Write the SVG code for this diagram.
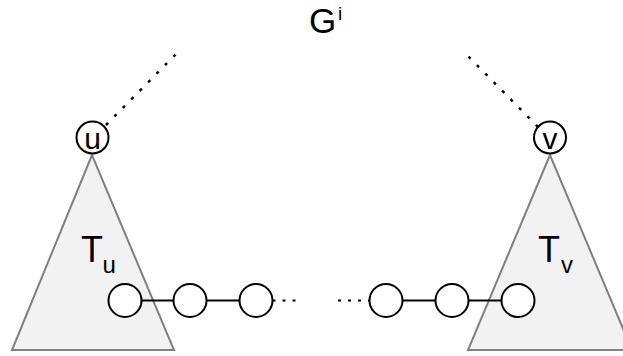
<svg xmlns="http://www.w3.org/2000/svg" width="623" height="356" viewBox="0 0 623 356">
<style>
.tri{fill:#f2f2f2;stroke:#808080;stroke-width:2}
.nd{fill:#fff;stroke:#000;stroke-width:2}
.ln{stroke:#000;stroke-width:2;fill:none}
.dot{stroke:#000;stroke-width:2;fill:none;stroke-dasharray:3 7}
.ddot{stroke:#000;stroke-width:2.5;fill:none;stroke-dasharray:3 9}
text{font-family:"Liberation Sans",Arial,sans-serif;fill:#000}
</style>
<rect width="623" height="356" fill="#fff"/>
<g id="Tu">
<polygon class="tri" points="92,155 12,350 174,350"/>
<text x="81" y="262" font-size="36">T</text>
<text x="102.5" y="273" font-size="24">u</text>
</g>
<g id="Tv">
<polygon class="tri" points="550,155 468,350 632,350"/>
<text x="538" y="262" font-size="36">T</text>
<text x="561" y="273" font-size="24">v</text>
</g>
<g id="Gi">
<text x="309" y="33" font-size="35">G</text>
<text x="338" y="20" font-size="19">i</text>
</g>
<g id="connectors">
<line class="ddot" x1="106" y1="125" x2="177" y2="53"/>
<line class="ddot" x1="538" y1="127" x2="466" y2="54"/>
<line class="ln" x1="141.5" y1="300.5" x2="173.5" y2="300.5"/>
<line class="ln" x1="206.5" y1="300.5" x2="239.5" y2="300.5"/>
<line class="dot" x1="272.5" y1="300.5" x2="302" y2="300.5"/>
<line class="dot" x1="338" y1="300.5" x2="369.5" y2="300.5"/>
<line class="ln" x1="402.5" y1="300.5" x2="435.5" y2="300.5"/>
<line class="ln" x1="468.5" y1="300.5" x2="501.5" y2="300.5"/>
</g>
<g id="u">
<circle class="nd" cx="92.5" cy="137.5" r="16"/>
<text x="92.5" y="149" font-size="30" text-anchor="middle">u</text>
</g>
<g id="v">
<circle class="nd" cx="550" cy="137.5" r="16"/>
<text x="550" y="149" font-size="30" text-anchor="middle">v</text>
</g>
<g id="n1"><circle class="nd" cx="125" cy="300.5" r="16.5"/></g>
<g id="n2"><circle class="nd" cx="190" cy="300.5" r="16.5"/></g>
<g id="n3"><circle class="nd" cx="256" cy="300.5" r="16.5"/></g>
<g id="n4"><circle class="nd" cx="386" cy="300.5" r="16.5"/></g>
<g id="n5"><circle class="nd" cx="452" cy="300.5" r="16.5"/></g>
<g id="n6"><circle class="nd" cx="518" cy="300.5" r="16.5"/></g>
</svg>
